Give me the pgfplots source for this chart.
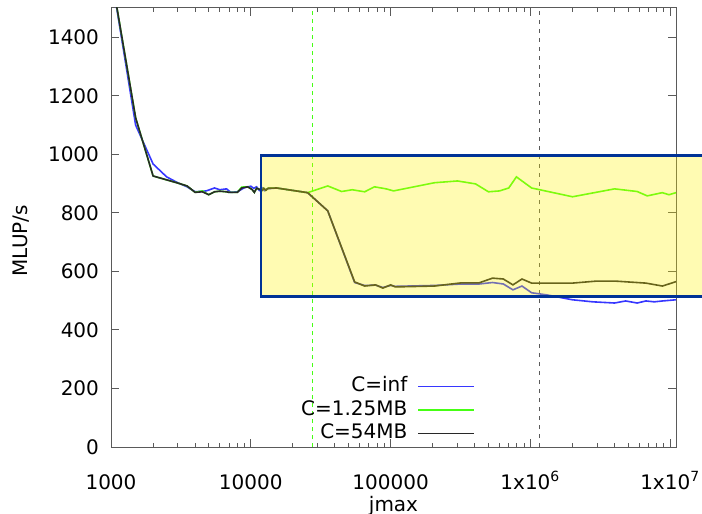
\documentclass[border=0pt]{standalone}
\usepackage{fontspec}
\setmainfont{DejaVu Sans}
\usepackage{pgfplots}
\pgfplotsset{compat=1.18}
\definecolor{cinf}{RGB}{55,55,255}
\definecolor{cgreen}{RGB}{70,255,20}
\definecolor{cdark}{RGB}{40,40,40}
\definecolor{navy}{RGB}{0,50,150}
\definecolor{axgray}{RGB}{90,90,90}

\begin{document}
\fontsize{10}{12}\selectfont
\begin{tikzpicture}
\begin{axis}[
  scale only axis, width=282.5pt, height=219.5pt,
  xmode=log, xmin=1000, xmax=1.1e7,
  ymin=0, ymax=1500,
  xtick={1000,10000,100000,1000000,10000000},
  xticklabels={1000,10000,100000,1x10\textsuperscript{6},1x10\textsuperscript{7}},
  minor xtick={2000,3000,4000,5000,6000,7000,8000,9000,
    20000,30000,40000,50000,60000,70000,80000,90000,
    200000,300000,400000,500000,600000,700000,800000,900000,
    2000000,3000000,4000000,5000000,6000000,7000000,8000000,9000000},
  ytick={0,200,400,600,800,1000,1200,1400},
  /pgf/number format/assume math mode=true,
  /pgf/number format/1000 sep={},
  xticklabel style={anchor=base, yshift=-21pt},
  yticklabel style={xshift=-2.5pt},
  major tick length=4pt, minor tick length=2pt,
  tick style={color=axgray, line width=0.5pt},
  axis line style={color=axgray, line width=0.5pt},
  xlabel={jmax}, ylabel={MLUP/s},
  xlabel style={at={([yshift=-32pt]rel axis cs:0.5,0)}, anchor=base},
  ylabel style={at={([xshift=-45pt]rel axis cs:0,0.47)}, anchor=center},
  legend style={draw=none, fill=none, at={(0.645,0.165)}, anchor=north east,
    font=\fontsize{10}{12}\selectfont, inner sep=0pt, row sep=0.25pt, column sep=4pt,
    nodes={inner sep=1pt, text height=7.5pt, text depth=2pt}},
  legend cell align=right,
  legend plot pos=right,
  legend image code/.code={\draw[#1] (0pt,0pt) -- (28pt,0pt);},
]
% cache size markers
\addplot[cgreen, dash pattern=on 2pt off 2pt, line width=0.5pt, forget plot] coordinates {(27700,0)(27700,1500)};
\addplot[axgray, dash pattern=on 2pt off 2.5pt, line width=0.5pt, forget plot] coordinates {(1160000,0)(1160000,1500)};

\addplot[cinf, line width=0.8pt] coordinates {
  (1000,1620)(1500,1100)(2000,967)(2500,923)(3000,903)(3500,889)(4000,872)(4800,875)
  (5500,885)(6000,879)(6700,882)(7200,870)(8000,872)(9000,886)(10000,891)(10500,884)
  (11000,889)(11500,877)(12000,886)(12500,876)(13000,882)(15300,885)(25500,869)(35500,807)
  (55300,562)(65200,552)(78000,553)(88000,545)(100000,552)(108000,549)(206000,552)(322000,557)
  (430000,557)(536000,562)(640000,557)(750000,537)(870000,550)(1020000,527)(1300000,520)
  (2000000,503)(2800000,496)(4000000,492)(4800000,499)(5800000,492)(6700000,499)(7700000,496)
  (8800000,499)(11000000,503)
};
\addlegendentry{C=inf}
\addplot[cgreen, line width=0.8pt] coordinates {
  (1000,1620)(1500,1125)(2000,926)(3000,902)(3500,892)(4000,870)(4500,875)(5000,862)
  (5500,872)(6000,874)(6700,872)(7000,870)(8000,870)(8600,888)(9500,889)(10200,880)
  (10600,870)(11000,884)(11600,880)(12000,876)(12400,884)(12800,877)(13300,884)(15300,885)
  (25500,869)(35500,892)(44600,873)(53200,879)(65200,872)(76700,889)(93000,882)(105000,875)
  (206000,903)(301000,909)(405000,899)(501000,872)(601000,875)(700000,885)(794000,923)
  (1020000,885)(2000000,855)(4000000,882)(5800000,873)(6850000,858)(8770000,869)(9800000,862)
  (11000000,869)
};
\addlegendentry{C=1.25MB}
\addplot[cdark, line width=0.8pt] coordinates {
  (1000,1620)(1500,1125)(2000,926)(3000,902)(3500,892)(4000,870)(4500,872)(5000,862)
  (5500,872)(6000,874)(6700,872)(7000,870)(8000,870)(8600,885)(9500,889)(10200,880)
  (10600,870)(11000,884)(11600,880)(12000,876)(12400,884)(12800,877)(13300,884)(15300,885)
  (25500,869)(35500,807)(55300,564)(65200,550)(78000,554)(88000,543)(100000,554)(108000,547)
  (206000,550)(322000,561)(430000,561)(536000,577)(640000,574)(750000,554)(870000,574)
  (1020000,560)(2000000,560)(3000000,567)(4000000,567)(6700000,560)(8800000,550)(11000000,565)
};
\addlegendentry{C=54MB}

\coordinate (rtl) at (axis cs:11800,995);
\coordinate (rbl) at (axis cs:11800,515);
\coordinate (bl) at (rel axis cs:0,0);
\coordinate (tr) at (rel axis cs:1,1);
\end{axis}
% highlighted region, drawn over the plot
\coordinate (edge) at ([xshift=16pt]tr);
\fill[yellow, opacity=0.3] (rtl) rectangle (rbl -| edge);
\draw[navy, line width=1.3pt] (rtl -| edge) -- (rtl) -- (rbl) -- (rbl -| edge);
\pgfresetboundingbox
\path[use as bounding box] ([shift={(-55.5pt,-33pt)}]bl) rectangle ([shift={(13pt,4pt)}]tr);
\end{tikzpicture}
\end{document}
